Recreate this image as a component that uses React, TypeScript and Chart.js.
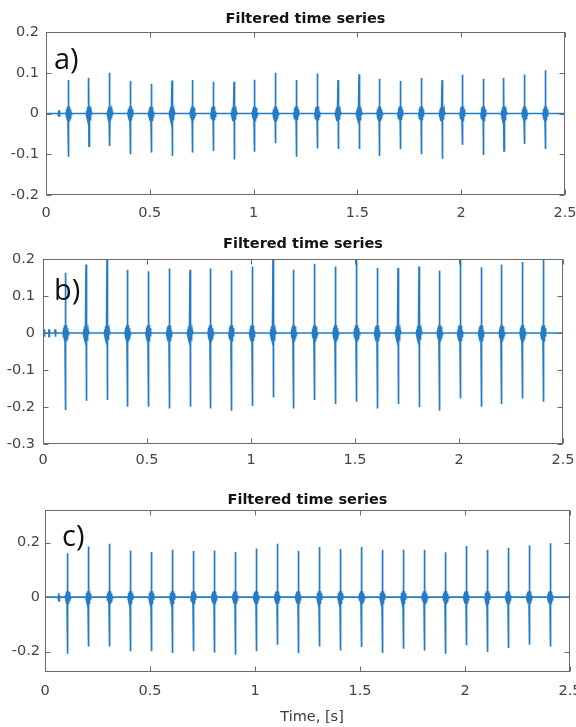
import React, { useEffect, useRef } from "react";
import { Chart, registerables } from "chart.js";

Chart.register(...registerables);

// ---------- data ----------
const xTickValues = [0, 0.5, 1, 1.5, 2, 2.5];
const yTicksA = [-0.2, -0.1, 0, 0.1, 0.2];
const yTicksB = [-0.3, -0.2, -0.1, 0, 0.1, 0.2];
const yTicksC = [-0.2, 0, 0.2];

const spikeTimes = [
  0.109, 0.207, 0.308, 0.407, 0.507, 0.607, 0.707, 0.806, 0.906, 1.006, 1.106, 1.206,
  1.307, 1.407, 1.508, 1.607, 1.707, 1.808, 1.908, 2.006, 2.107, 2.206, 2.306, 2.406,
];

const aPos = [0.082, 0.088, 0.1, 0.08, 0.073, 0.081, 0.082, 0.078, 0.078, 0.083, 0.1, 0.082,
  0.098, 0.082, 0.096, 0.085, 0.08, 0.087, 0.082, 0.095, 0.085, 0.087, 0.096, 0.106];
const aNeg = [-0.106, -0.08, -0.08, -0.1, -0.096, -0.104, -0.096, -0.092, -0.113, -0.094, -0.073, -0.106,
  -0.086, -0.087, -0.087, -0.104, -0.088, -0.1, -0.111, -0.077, -0.102, -0.092, -0.075, -0.087];

const bPos = [0.163, 0.185, 0.21, 0.171, 0.167, 0.174, 0.171, 0.174, 0.169, 0.18, 0.21, 0.171,
  0.187, 0.18, 0.21, 0.176, 0.176, 0.18, 0.169, 0.21, 0.178, 0.185, 0.192, 0.21];
const bNeg = [-0.208, -0.183, -0.181, -0.199, -0.199, -0.204, -0.199, -0.204, -0.21, -0.197, -0.174, -0.204,
  -0.181, -0.192, -0.186, -0.204, -0.192, -0.201, -0.21, -0.177, -0.199, -0.192, -0.177, -0.186];

const cPos = [0.161, 0.186, 0.196, 0.171, 0.166, 0.174, 0.169, 0.171, 0.166, 0.179, 0.196, 0.169,
  0.184, 0.177, 0.184, 0.174, 0.174, 0.174, 0.165, 0.188, 0.174, 0.181, 0.19, 0.198];
const cNeg = [-0.208, -0.181, -0.181, -0.199, -0.199, -0.205, -0.199, -0.203, -0.212, -0.199, -0.175, -0.205,
  -0.181, -0.196, -0.183, -0.205, -0.19, -0.196, -0.208, -0.177, -0.202, -0.187, -0.175, -0.181];

// burst (dark blob) half-amplitude around each spike, per panel
const burstA = 0.017;
const burstB = 0.021;
const burstC = 0.022;

// burst shape: time offsets (s) before / after the spike and relative amplitudes
const burstDtBefore = [-0.012, -0.011, -0.010, -0.009, -0.008, -0.007, -0.006, -0.005, -0.0045, -0.004, -0.0035, -0.003, -0.0025, -0.002, -0.0015, -0.001, -0.0005];
const burstRelBefore = [0.15, -0.3, 0.45, -0.6, 0.7, -0.8, 0.88, -0.93, 0.96, -1.0, 1.0, -1.0, 1.0, -1.0, 1.0, -1.0, 0.9];
const burstDtAfter = [0.0005, 0.001, 0.0015, 0.002, 0.0025, 0.003, 0.0035, 0.004, 0.0045, 0.005, 0.006, 0.007, 0.008, 0.009, 0.010, 0.011, 0.012];
const burstRelAfter = [0.9, -1.0, 1.0, -1.0, 1.0, -1.0, 1.0, -0.96, 0.93, -0.88, 0.8, -0.7, 0.6, -0.45, 0.3, -0.2, 0.1];

// small pre-event blips
const preTimesA = [0.063];
const preTimesB = [0.005, 0.03, 0.06];
const preTimesC = [0.066];
const preAmpA = 0.008;
const preAmpB = 0.01;
const preAmpC = 0.014;

// ---------- helpers ----------
type Pt = { x: number; y: number };

function buildSeries(pos: number[], neg: number[], burst: number, pre: number[], preAmp: number): Pt[] {
  const pts: Pt[] = [{ x: 0, y: 0 }];
  pre.forEach((t) => {
    pts.push(
      { x: t - 0.004, y: 0 },
      { x: t - 0.002, y: preAmp },
      { x: t - 0.001, y: -preAmp },
      { x: t, y: preAmp },
      { x: t + 0.001, y: -preAmp },
      { x: t + 0.002, y: preAmp * 0.5 },
      { x: t + 0.004, y: 0 }
    );
  });
  spikeTimes.forEach((t, i) => {
    pts.push({ x: t - 0.014, y: 0 });
    burstDtBefore.forEach((dt, k) => pts.push({ x: t + dt, y: burst * burstRelBefore[k] }));
    pts.push({ x: t, y: pos[i] }, { x: t + 0.0002, y: neg[i] });
    burstDtAfter.forEach((dt, k) => pts.push({ x: t + dt, y: burst * burstRelAfter[k] }));
    pts.push({ x: t + 0.014, y: 0 });
  });
  pts.push({ x: 2.5, y: 0 });
  return pts;
}

const FONT = "'DejaVu Sans', 'Liberation Sans', Arial, sans-serif";
const LINE_COLOR = "rgb(36,124,198)";

const matlabAxes = {
  id: "matlabAxes",
  afterDatasetsDraw(chart: any, _args: any, opts: any) {
    const { ctx, chartArea: a, scales } = chart;
    const xs = scales.x;
    const ys = scales.y;
    ctx.save();
    ctx.strokeStyle = "#6a6a6a";
    ctx.lineWidth = 1;
    const L = Math.round(a.left) + 0.5;
    const T = Math.round(a.top) + 0.5;
    const R = Math.round(a.right) - 0.5;
    const B = Math.round(a.bottom) - 0.5;
    ctx.strokeRect(L, T, R - L, B - T);
    ctx.beginPath();
    for (const v of opts.xTicks) {
      const px = Math.round(xs.getPixelForValue(v)) + 0.5;
      ctx.moveTo(px, B);
      ctx.lineTo(px, B - 5);
      ctx.moveTo(px, T);
      ctx.lineTo(px, T + 5);
    }
    for (const v of opts.yTicks) {
      const py = Math.round(ys.getPixelForValue(v)) + 0.5;
      ctx.moveTo(L, py);
      ctx.lineTo(L + 5, py);
      ctx.moveTo(R, py);
      ctx.lineTo(R - 5, py);
    }
    ctx.stroke();

    // title
    ctx.fillStyle = "#141414";
    ctx.font = `bold 14.5px ${FONT}`;
    ctx.textAlign = "center";
    ctx.textBaseline = "alphabetic";
    ctx.fillText(opts.title, (a.left + a.right) / 2, opts.titleBaseline);

    // panel letter
    ctx.fillStyle = "#111";
    ctx.font = `29px 'Open Sans', 'DejaVu Sans', sans-serif`;
    ctx.textAlign = "left";
    ctx.fillText(opts.letter, opts.letterX, opts.letterBaseline);

    // x axis label
    if (opts.xLabel) {
      ctx.fillStyle = "#3c3c3c";
      ctx.font = `14.5px ${FONT}`;
      ctx.textAlign = "center";
      ctx.fillText(opts.xLabel, opts.xLabelX, opts.xLabelBaseline);
    }
    ctx.restore();
  },
};

type PanelCfg = {
  top: number;
  height: number;
  area: { left: number; top: number; right: number; bottom: number };
  yMin: number;
  yMax: number;
  yTicks: number[];
  data: Pt[];
  letter: string;
  letterX: number;
  letterBaseline: number;
  titleBaseline: number;
  yPad: number;
  xPad: number;
  xLabel?: string;
  xLabelX?: number;
  xLabelBaseline?: number;
};

const panels: PanelCfg[] = [
  {
    top: 0,
    height: 225,
    area: { left: 46, top: 32, right: 565, bottom: 195 },
    yMin: -0.2,
    yMax: 0.2,
    yTicks: yTicksA,
    data: buildSeries(aPos, aNeg, burstA, preTimesA, preAmpA),
    letter: "a)",
    letterX: 54,
    letterBaseline: 69,
    titleBaseline: 22.5,
    yPad: 7,
    xPad: 10,
  },
  {
    top: 225,
    height: 250,
    area: { left: 43, top: 34, right: 563, bottom: 219 },
    yMin: -0.3,
    yMax: 0.2,
    yTicks: yTicksB,
    data: buildSeries(bPos, bNeg, burstB, preTimesB, preAmpB),
    letter: "b)",
    letterX: 54,
    letterBaseline: 75,
    titleBaseline: 23,
    yPad: 8,
    xPad: 8,
  },
  {
    top: 475,
    height: 252,
    area: { left: 45, top: 35, right: 570, bottom: 197 },
    yMin: -0.275,
    yMax: 0.32,
    yTicks: yTicksC,
    data: buildSeries(cPos, cNeg, burstC, preTimesC, preAmpC),
    letter: "c)",
    letterX: 62,
    letterBaseline: 71,
    titleBaseline: 28.5,
    yPad: 5,
    xPad: 11,
    xLabel: "Time, [s]",
    xLabelX: 312,
    xLabelBaseline: 246,
  },
];

function Panel({ cfg }: { cfg: PanelCfg }) {
  const ref = useRef<HTMLCanvasElement>(null);
  useEffect(() => {
    const canvas = ref.current!;
    const W = 576;
    const chart = new Chart(canvas, {
      type: "line",
      data: {
        datasets: [
          {
            data: cfg.data as any,
            borderColor: LINE_COLOR,
            borderWidth: 1.7,
            pointRadius: 0,
            tension: 0,
            fill: false,
            clip: 0 as any,
          },
        ],
      },
      options: {
        animation: false,
        responsive: false,
        events: [],
        layout: {
          padding: { left: 0, top: cfg.area.top, right: W - cfg.area.right, bottom: 0 },
        },
        plugins: {
          legend: { display: false },
          tooltip: { enabled: false },
          title: { display: false },
          matlabAxes: {
            xTicks: xTickValues,
            yTicks: cfg.yTicks,
            title: "Filtered time series",
            titleBaseline: cfg.titleBaseline,
            letter: cfg.letter,
            letterX: cfg.letterX,
            letterBaseline: cfg.letterBaseline,
            xLabel: cfg.xLabel,
            xLabelX: cfg.xLabelX,
            xLabelBaseline: cfg.xLabelBaseline,
          },
        } as any,
        scales: {
          x: {
            type: "linear",
            min: 0,
            max: 2.5,
            grid: { display: false, drawTicks: false },
            border: { display: false },
            afterBuildTicks: (s: any) => {
              s.ticks = xTickValues.map((v) => ({ value: v }));
            },
            afterFit: (s: any) => {
              s.height = cfg.height - cfg.area.bottom;
              s.paddingLeft = 0;
              s.paddingRight = 0;
            },
            ticks: {
              autoSkip: false,
              maxRotation: 0,
              padding: cfg.xPad,
              color: "#444444",
              font: { family: FONT, size: 14.5 },
              callback: (v: any) => String(v),
            },
          },
          y: {
            type: "linear",
            min: cfg.yMin,
            max: cfg.yMax,
            grid: { display: false, drawTicks: false },
            border: { display: false },
            afterBuildTicks: (s: any) => {
              s.ticks = cfg.yTicks.map((v) => ({ value: v }));
            },
            afterFit: (s: any) => {
              s.width = cfg.area.left;
              s.paddingTop = 0;
              s.paddingBottom = 0;
            },
            ticks: {
              autoSkip: false,
              padding: cfg.yPad,
              color: "#444444",
              font: { family: FONT, size: 14.5 },
              callback: (v: any) => String(v),
            },
          },
        },
      } as any,
      plugins: [matlabAxes as any],
    });
    return () => chart.destroy();
  }, [cfg]);
  return (
    <canvas
      ref={ref}
      width={576}
      height={cfg.height}
      style={{ position: "absolute", left: 0, top: cfg.top, width: 576, height: cfg.height, display: "block" }}
    />
  );
}

export default function App() {
  return (
    <div style={{ position: "absolute", left: 0, top: 0, width: 576, height: 727, background: "#fff", overflow: "hidden" }}>
      {panels.map((p, i) => (
        <Panel key={i} cfg={p} />
      ))}
    </div>
  );
}
